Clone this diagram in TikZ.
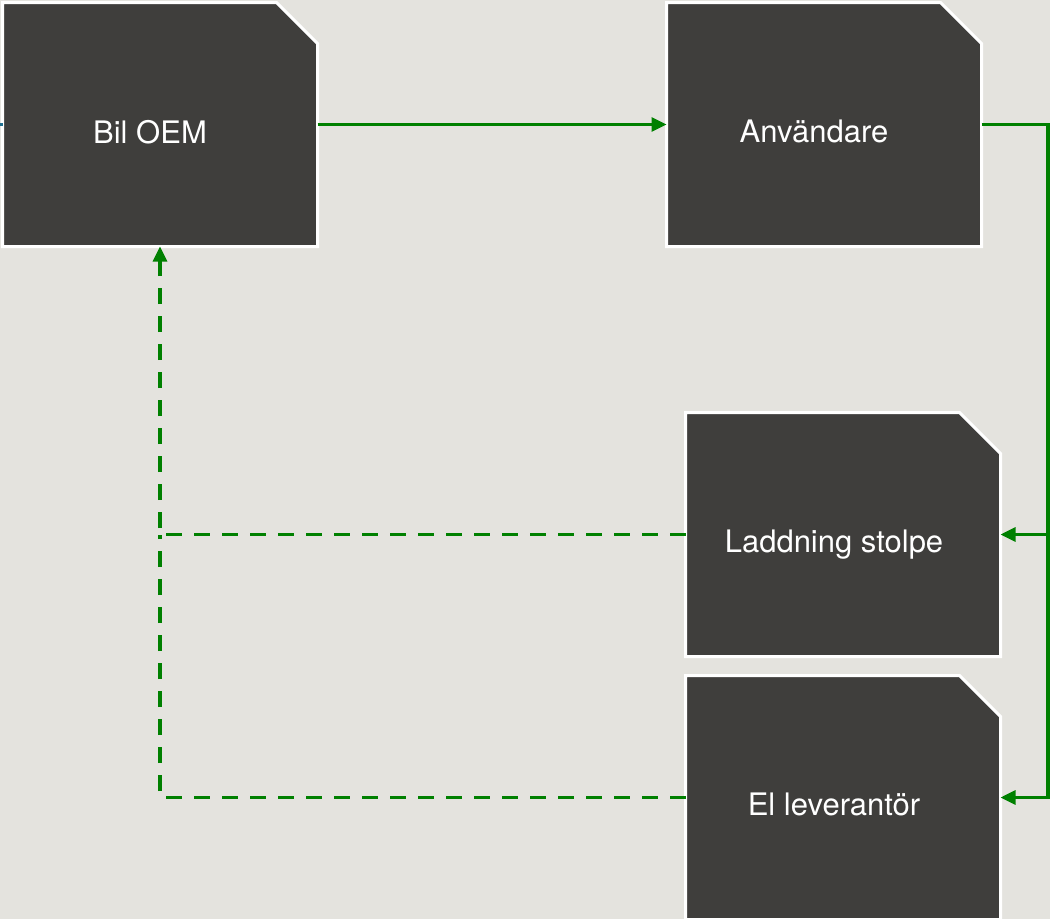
\documentclass[tikz,border=0pt]{standalone}
\usepackage{fontspec}
\setmainfont{TeX Gyre Heros}
\usetikzlibrary{arrows.meta}
\definecolor{bgc}{HTML}{E4E3DE}
\definecolor{boxc}{HTML}{3F3E3C}
\definecolor{flowc}{HTML}{008000}
\definecolor{stubc}{HTML}{1F6F8F}
\tikzset{
  actor/.style={rectangle, minimum width=315pt, minimum height=244pt,
    inner sep=0pt, outer sep=0pt},
  actorshape/.style={fill=boxc, draw=white, line width=3pt},
  lbl/.style={anchor=base, text=white, font=\fontsize{31}{36}\selectfont, inner sep=0pt},
  flow/.style={draw=flowc, line width=3.2pt, -{Triangle[length=15pt,width=14pt]}},
  dflow/.style={flow, dash pattern=on 16pt off 12pt},
  dline/.style={draw=flowc, line width=3.2pt, dash pattern=on 16pt off 12pt},
}
\begin{document}
\begin{tikzpicture}[x=1pt,y=-1pt]
\fill[bgc] (0,0) rectangle (1050,919);
\useasboundingbox (0,0) rectangle (1050,919);
% boxes
\node[actor] (oem) at (160,124.5) {};
\node[actor] (anv) at (824,124.5) {};
\node[actor] (lad) at (843,534.5) {};
\node[actor] (el)  at (843,797.5) {};
\foreach \n in {oem,anv,lad,el}
  \filldraw[actorshape] (\n.south west) -- (\n.north west)
    -- ([xshift=-41pt]\n.north east) -- ([yshift=-41pt]\n.north east)
    -- (\n.south east) -- cycle;
% labels
\node[lbl] (toem) at ([shift={(-10,18.5)}]oem.center) {Bil OEM};
\node[lbl] (tanv) at ([shift={(-10,17.5)}]anv.center) {Användare};
\node[lbl] (tlad) at ([shift={(-9,18)}]lad.center) {Laddning stolpe};
\node[lbl] (tel)  at ([shift={(-9,18)}]el.center) {El leverantör};
% connectors
\coordinate (lstub) at (0,124.5);
\draw[stubc, line width=3pt] (lstub) -- (oem.west);
\draw[flow] (oem.east) -- (anv.west);
\coordinate (r1) at (1048,124.5);
\draw[flow] (anv.east) -- (r1) |- (lad.east);
\draw[flow] (r1) |- (el.east);
\coordinate (j) at (160,534.5);
\draw[dflow] (lad.west) -| (oem.south);
\draw[dline] (el.west) -| (j);
\end{tikzpicture}
\end{document}
